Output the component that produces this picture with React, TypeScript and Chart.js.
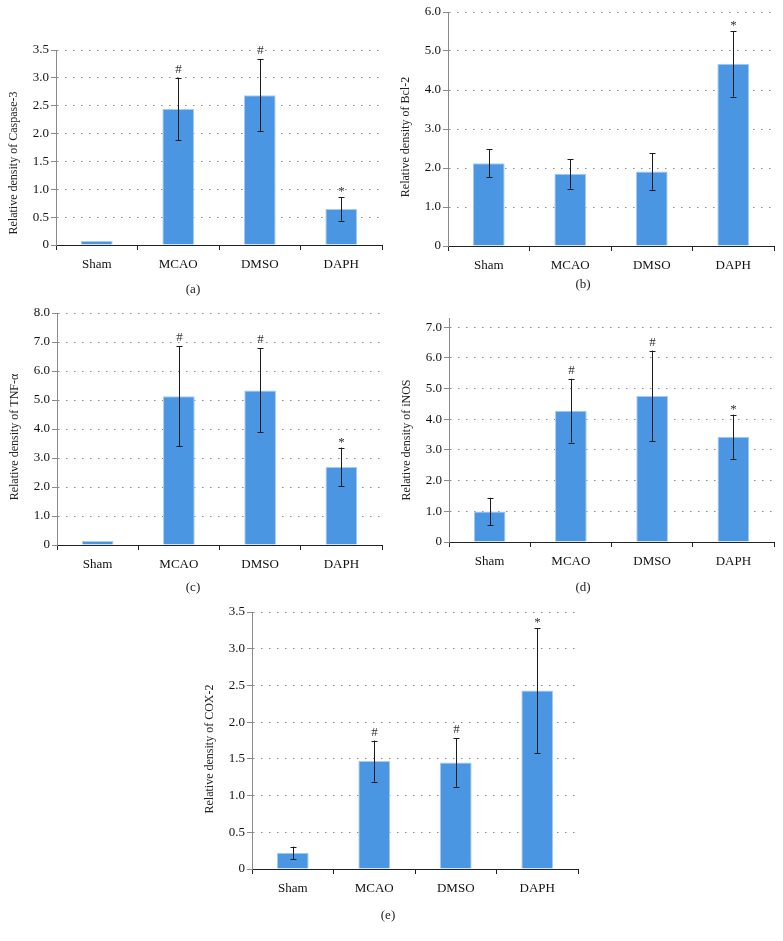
import React, { useEffect, useRef } from "react";
import { Chart, registerables } from "chart.js";

Chart.register(...registerables);

const FONT = "'Liberation Serif', 'DejaVu Serif', serif";

const groups = ["Sham", "MCAO", "DMSO", "DAPH"];

const caspase3Mean = [0.07, 2.44, 2.69, 0.645];
const caspase3Err = [0, 0.56, 0.65, 0.21];
const caspase3Marks = ["", "#", "#", "*"];

const bcl2Mean = [2.12, 1.85, 1.91, 4.67];
const bcl2Err = [0.36, 0.38, 0.47, 0.84];
const bcl2Marks = ["", "", "", "*"];

const tnfMean = [0.14, 5.13, 5.33, 2.69];
const tnfErr = [0, 1.73, 1.45, 0.67];
const tnfMarks = ["", "#", "#", "*"];

const inosMean = [0.99, 4.28, 4.76, 3.43];
const inosErr = [0.45, 1.04, 1.48, 0.72];
const inosMarks = ["", "#", "#", "*"];

const cox2Mean = [0.22, 1.47, 1.45, 2.43];
const cox2Err = [0.085, 0.28, 0.33, 0.85];
const cox2Marks = ["", "#", "#", "*"];

type PanelDef = {
  tag: string;
  title: string;
  mean: number[];
  err: number[];
  marks: string[];
  max: number;
  step: number;
  plot: { l: number; t: number; r: number; b: number };
  titleY: number;
  label: { x: number; y: number };
};

const panels: PanelDef[] = [
  {
    tag: "(a)",
    title: "Relative density of Caspase-3",
    mean: caspase3Mean,
    err: caspase3Err,
    marks: caspase3Marks,
    max: 3.5,
    step: 0.5,
    plot: { l: 56, t: 50, r: 382, b: 245 },
    titleY: 163,
    label: { x: 193, y: 289 },
  },
  {
    tag: "(b)",
    title: "Relative density of Bcl-2",
    mean: bcl2Mean,
    err: bcl2Err,
    marks: bcl2Marks,
    max: 6,
    step: 1,
    plot: { l: 448, t: 12, r: 774, b: 246 },
    titleY: 137,
    label: { x: 583, y: 284 },
  },
  {
    tag: "(c)",
    title: "Relative density of TNF-α",
    mean: tnfMean,
    err: tnfErr,
    marks: tnfMarks,
    max: 8,
    step: 1,
    plot: { l: 57, t: 313, r: 382, b: 545 },
    titleY: 437,
    label: { x: 193, y: 587 },
  },
  {
    tag: "(d)",
    title: "Relative density of iNOS",
    mean: inosMean,
    err: inosErr,
    marks: inosMarks,
    max: 7.3,
    step: 1,
    plot: { l: 449, t: 318, r: 774, b: 542 },
    titleY: 440,
    label: { x: 583, y: 587 },
  },
  {
    tag: "(e)",
    title: "Relative density of COX-2",
    mean: cox2Mean,
    err: cox2Err,
    marks: cox2Marks,
    max: 3.5,
    step: 0.5,
    plot: { l: 252, t: 612, r: 578, b: 869 },
    titleY: 749,
    label: { x: 388, y: 915 },
  },
];

const Y_W = 56;
const PAD_T = 16;
const PAD_R = 8;
const X_H = 40;

const errorBarPlugin = {
  id: "errorBars",
  afterDatasetsDraw(chart: any, _args: any, opts: any) {
    const { ctx } = chart;
    const y = chart.scales.y;
    const meta = chart.getDatasetMeta(0);
    ctx.save();
    ctx.strokeStyle = "#1c1c1c";
    ctx.lineWidth = 1;
    ctx.fillStyle = "#333";
    ctx.font = `13px ${FONT}`;
    ctx.textAlign = "center";
    ctx.textBaseline = "alphabetic";
    meta.data.forEach((bar: any, i: number) => {
      const m = opts.mean[i];
      const e = opts.err[i];
      const cx = Math.round(bar.x) + 0.5;
      const yt = y.getPixelForValue(m + e);
      const yb = y.getPixelForValue(m - e);
      if (e > 0) {
        ctx.beginPath();
        ctx.moveTo(cx, yt);
        ctx.lineTo(cx, yb);
        ctx.moveTo(cx - 3, Math.round(yt) + 0.5);
        ctx.lineTo(cx + 3, Math.round(yt) + 0.5);
        ctx.moveTo(cx - 3, Math.round(yb) + 0.5);
        ctx.lineTo(cx + 3, Math.round(yb) + 0.5);
        ctx.stroke();
      }
      const mk = opts.marks[i];
      if (mk) {
        const off = mk === "#" ? 5 : 2;
        ctx.fillText(mk, cx, yt - off);
      }
    });
    ctx.restore();
  },
};

const yTitlePlugin = {
  id: "yTitle",
  afterDraw(chart: any, _args: any, opts: any) {
    const { ctx, chartArea } = chart;
    ctx.save();
    ctx.fillStyle = "#222";
    ctx.font = `12px ${FONT}`;
    ctx.textAlign = "center";
    ctx.textBaseline = "middle";
    ctx.translate(chartArea.left - 42, opts.cy);
    ctx.rotate(-Math.PI / 2);
    ctx.fillText(opts.text, 0, 0);
    ctx.restore();
  },
};

function Panel({ p }: { p: PanelDef }) {
  const ref = useRef<HTMLCanvasElement | null>(null);
  const cw = Y_W + (p.plot.r - p.plot.l) + PAD_R;
  const ch = PAD_T + (p.plot.b - p.plot.t) + X_H;
  const left = p.plot.l - Y_W;
  const top = p.plot.t - PAD_T;

  useEffect(() => {
    if (!ref.current) return;
    const chart = new Chart(ref.current, {
      type: "bar",
      data: {
        labels: groups,
        datasets: [
          {
            data: p.mean,
            backgroundColor: "#4a96e2",
            borderColor: "#a6cbf2",
            borderWidth: 1,
            barPercentage: 0.39,
            categoryPercentage: 1,
          },
        ],
      },
      options: {
        responsive: false,
        animation: false,
        layout: { padding: { top: PAD_T, right: PAD_R, left: 0, bottom: 0 } },
        plugins: {
          legend: { display: false },
          tooltip: { enabled: false },
          errorBars: { mean: p.mean, err: p.err, marks: p.marks },
          yTitle: { text: p.title, cy: p.titleY - top },
        } as any,
        scales: {
          x: {
            grid: {
              display: true,
              drawOnChartArea: false,
              drawTicks: true,
              tickLength: 5,
              color: "#222",
              offset: true,
            },
            border: { color: "#222", width: 1 },
            ticks: { color: "#111", font: { family: FONT, size: 13 }, padding: 7 },
            afterFit: (s: any) => {
              s.height = X_H;
            },
          },
          y: {
            min: 0,
            max: p.max,
            ticks: {
              stepSize: p.step,
              includeBounds: false,
              color: "#111",
              font: { family: FONT, size: 13 },
              padding: 2,
              callback: (v: any) => (Number(v) === 0 ? "0" : Number(v).toFixed(1)),
            },
            grid: {
              color: "#8a8a8a",
              lineWidth: 1,
              tickLength: 5,
              tickColor: "#8a8a8a",
              tickBorderDash: [],
            },
            border: { color: "#8a8a8a", width: 1, dash: [1.5, 6.5] },
            afterFit: (s: any) => {
              s.width = Y_W;
            },
          },
        },
      } as any,
      plugins: [errorBarPlugin, yTitlePlugin],
    });
    return () => chart.destroy();
  }, []);

  return (
    <>
      <canvas
        ref={ref}
        width={cw}
        height={ch}
        style={{ position: "absolute", left, top, width: cw, height: ch }}
      />
      <div
        style={{
          position: "absolute",
          left: p.label.x - 20,
          top: p.label.y - 9,
          width: 40,
          textAlign: "center",
          fontFamily: FONT,
          fontSize: 13,
          lineHeight: "18px",
          color: "#222",
        }}
      >
        {p.tag}
      </div>
    </>
  );
}

export default function App() {
  return (
    <div
      style={{
        position: "absolute",
        left: 0,
        top: 0,
        width: 783,
        height: 941,
        background: "#fff",
        overflow: "hidden",
      }}
    >
      {panels.map((p) => (
        <Panel key={p.tag} p={p} />
      ))}
    </div>
  );
}
